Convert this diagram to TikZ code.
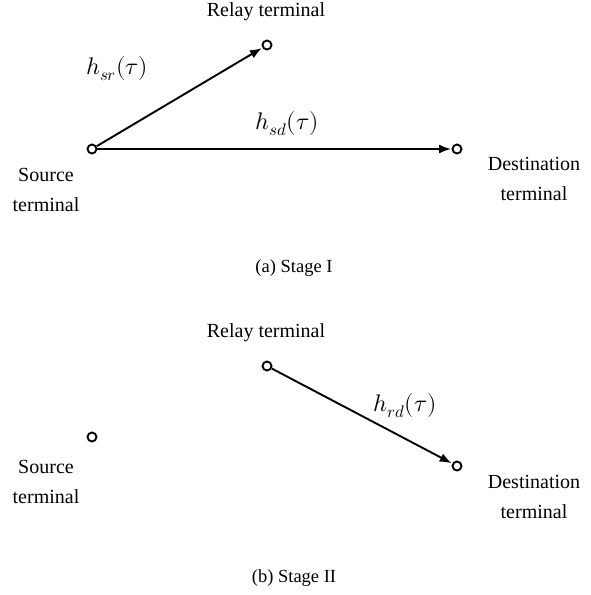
\documentclass[tikz,border=0pt]{standalone}
\usepackage{fontspec}
\usepackage{unicode-math}
\setmainfont{Liberation Serif}
\setmathfont{Latin Modern Math}
\usetikzlibrary{arrows.meta}
\begin{document}
\begin{tikzpicture}[x=1pt,y=-1pt,
  term/.style={circle,draw,line width=1.9pt,minimum size=9pt,inner sep=0pt},
  lbl/.style={font=\fontsize{20}{30}\selectfont,align=center,inner sep=0pt},
  mlbl/.style={font=\fontsize{24}{28}\selectfont,inner sep=0pt},
  captxt/.style={font=\fontsize{18.5}{22}\selectfont,inner sep=0pt},
  link/.style={line width=1.9pt,-{Latex[length=12pt,width=9pt]},shorten >=0.5pt}]
\useasboundingbox (0,0) rectangle (590,595);
% Stage I
\node[term] (s1) at (92,149) {};
\node[term] (r1) at (267,45) {};
\node[term] (d1) at (457,149) {};
\node[lbl] (rl1) at (266,12) {Relay terminal};
\node[lbl] (sl1) at (46,190) {Source\\terminal};
\node[lbl] (dl1) at (534,179) {Destination\\terminal};
\draw[link] (s1) -- (r1);
\draw[link] (s1) -- (d1);
\node[mlbl] (hsr) at (117,69) {$h_{sr}(\tau)$};
\node[mlbl] (hsd) at (287,124) {$h_{sd}(\tau)$};
\node[captxt] (ca) at (294,268) {(a) Stage I};
% Stage II
\node[term] (s2) at (92,437) {};
\node[term] (r2) at (267,366) {};
\node[term] (d2) at (457,466) {};
\node[lbl] (rl2) at (266,333) {Relay terminal};
\node[lbl] (sl2) at (46,482) {Source\\terminal};
\node[lbl] (dl2) at (534,497) {Destination\\terminal};
\draw[link] (r2) -- (d2);
\node[mlbl] (hrd) at (405,406) {$h_{rd}(\tau)$};
\node[captxt] (cb) at (294,578) {(b) Stage II};
\end{tikzpicture}
\end{document}
